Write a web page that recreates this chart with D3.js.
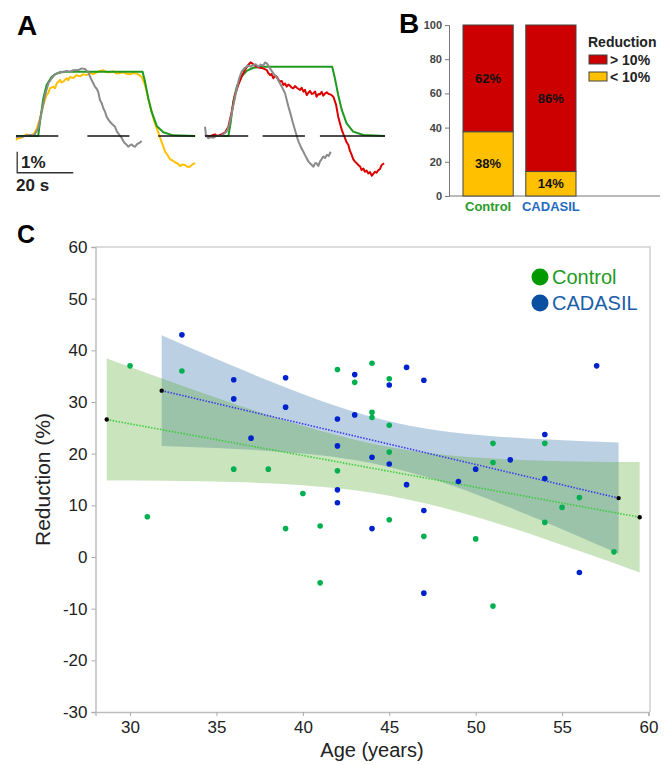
<!DOCTYPE html>
<html><head><meta charset="utf-8">
<script src="https://cdn.jsdelivr.net/npm/d3@7"></script>
<style>body{margin:0;background:#fff} svg{display:block;font-family:"Liberation Sans",Arial,sans-serif}</style>
</head><body><svg id="c" width="672" height="765"></svg>
<script>
// ---------------- Panel A data (time s, signal %) ----------------
const leftGreen = [[0,0],[7.4,0],[8,0.68],[9.1,1.79],[10.2,2.43],[11.9,2.82],[13.6,2.98],[15.8,3.06],[42.2,3.06],[43,2.59],[44.1,1.79],[45.2,1.16],[46.9,0.48],[49.1,0.18],[52.4,0.03],[59.7,0]];
const leftYellow = [[0,-0.19],[0.7,-0.1],[1.3,-0.11],[2.2,-0.02],[3.6,0.08],[4.4,0.0],[5.2,0.05],[6,0.12],[6.9,0.33],[8,0.84],[9.1,1.48],[10.2,1.95],[10.8,2.05],[11.3,2.27],[12.4,2.35],[13,2.28],[13.6,2.51],[14.7,2.67],[15.2,2.55],[15.8,2.59],[16.9,2.75],[17.4,2.66],[18,2.81],[19.1,2.76],[20.2,2.9],[21.3,2.84],[22.4,2.94],[23.5,2.9],[24.7,3.0],[25.8,2.95],[26.9,3.03],[28,3.1],[29.1,3.13],[30.2,3.04],[31.3,3.03],[32.4,3.08],[33.6,2.97],[34.7,3.0],[35.8,3.03],[36.9,2.96],[38,2.94],[39.1,3.0],[40.2,2.97],[41.1,2.9],[41.9,2.81],[43,2.43],[44.1,1.79],[45.2,1.16],[46.3,0.6],[47.4,0.17],[48.6,-0.3],[49.7,-0.75],[50.5,-0.9],[51.3,-1.1],[52.1,-1.16],[53,-1.25],[53.8,-1.3],[54.7,-1.43],[55.5,-1.36],[56.3,-1.38],[57.2,-1.47],[58,-1.46],[58.9,-1.34],[59.7,-1.3]];
const leftGray = [[0,-0.08],[1.2,-0.02],[2.4,-0.03],[3.5,0.02],[4.7,0.05],[5.5,0.02],[6.3,0.08],[7.4,0.37],[8.6,1.16],[9.7,1.95],[10.8,2.51],[11.9,2.75],[13,2.94],[13.8,2.98],[14.7,3.06],[15.8,3.04],[16.9,3.1],[18,3.06],[19.1,3.13],[20.8,3.14],[21.9,3.22],[23,3.19],[23.6,3.1],[24.1,3.06],[24.6,2.85],[25.2,2.67],[25.8,2.5],[26.3,2.35],[26.9,2.25],[27.4,2.11],[28,1.71],[28.6,1.55],[29.1,1.32],[29.7,1.15],[30.2,0.92],[30.8,0.78],[31.3,0.68],[32.2,0.55],[33,0.44],[33.6,0.22],[34.1,0.13],[34.7,0.0],[35.2,-0.08],[35.8,-0.25],[36.3,-0.35],[36.9,-0.42],[37.4,-0.51],[38,-0.44],[38.6,-0.4],[39.1,-0.48],[39.7,-0.51],[40.3,-0.4],[40.8,-0.35],[41.4,-0.3],[41.9,-0.24]];
const rightGreen = [[0,0],[7.8,0],[8.6,0.68],[9.4,1.63],[10.6,2.35],[12.2,2.83],[13.9,3.1],[16.1,3.25],[18.9,3.3],[42.4,3.3],[43.3,2.75],[44.4,1.95],[45.6,1.24],[47.2,0.6],[49.4,0.21],[52.8,0.05],[60,0]];
const rightRed = [[0,0.05],[0.8,0.0],[1.7,-0.03],[2.5,0.04],[3.3,0.08],[4.2,0.0],[5,0.05],[5.8,0.1],[6.7,0.17],[7.8,0.44],[8.9,1.16],[10,1.95],[11.1,2.43],[12.2,2.83],[13.3,3.14],[14.4,3.38],[15.2,3.51],[16.1,3.41],[17.2,3.3],[18.3,3.25],[19.4,3.22],[20.6,3.14],[21.1,3.0],[21.7,2.9],[22.2,2.95],[22.8,2.75],[23.3,2.85],[23.9,2.83],[24.4,2.7],[25,2.59],[25.6,2.62],[26.1,2.43],[26.7,2.5],[27.2,2.35],[27.8,2.45],[28.3,2.4],[28.9,2.3],[29.4,2.27],[30,2.38],[30.6,2.3],[31.1,2.25],[31.7,2.19],[32.2,2.3],[32.8,2.11],[33.3,2.2],[33.9,1.95],[34.4,2.05],[35,2.14],[35.6,2.0],[36.1,2.03],[36.7,2.12],[37.2,1.87],[37.8,2.0],[38.3,1.98],[38.9,2.1],[39.4,1.92],[40,2.02],[40.6,2.08],[41.2,2.0],[41.9,1.98],[42.8,1.87],[43.7,1.48],[44.4,0.92],[45,0.6],[45.6,0.29],[46.1,0.1],[46.7,-0.11],[47.2,-0.3],[47.8,-0.43],[48.3,-0.7],[48.9,-0.9],[49.4,-1.1],[50,-1.22],[50.6,-1.3],[51.1,-1.38],[51.7,-1.45],[52.2,-1.62],[52.8,-1.55],[53.3,-1.7],[53.9,-1.65],[54.4,-1.78],[55,-1.72],[55.6,-1.89],[56.1,-1.8],[56.7,-1.7],[57.2,-1.75],[57.8,-1.62],[58.3,-1.58],[58.9,-1.38],[59.7,-1.3]];
const rightGray = [[0,0.44],[0.3,0.05],[1.1,-0.11],[1.9,-0.05],[2.8,-0.08],[3.6,-0.02],[4.4,0.02],[5.3,0.0],[6.1,0.08],[7.2,0.21],[8.1,0.52],[8.9,1.08],[9.7,1.63],[10.6,2.27],[11.4,2.75],[12.2,3.06],[13.3,3.25],[14.4,3.35],[15.2,3.3],[16.1,3.38],[16.9,3.42],[17.8,3.3],[18.6,3.4],[19.4,3.35],[20,3.5],[20.6,3.46],[21.1,3.35],[21.7,3.22],[22.2,3.1],[22.8,2.98],[23.7,2.83],[24.4,2.67],[25,2.5],[25.6,2.35],[26.1,2.2],[26.7,2.03],[27.4,1.63],[27.8,1.4],[28.3,1.16],[28.8,0.9],[29.2,0.68],[30,0.29],[30.8,-0.11],[31.3,-0.3],[31.7,-0.43],[32.2,-0.6],[32.8,-0.75],[33.3,-0.9],[33.9,-1.06],[34.4,-1.2],[35,-1.3],[35.6,-1.38],[36.1,-1.46],[36.7,-1.3],[37.2,-1.3],[37.8,-1.42],[38.3,-1.22],[38.9,-1.1],[39.4,-0.98],[40,-1.05],[40.6,-0.9],[41.2,-0.95],[41.9,-0.75]];
const leftBaseSeg = [[0,14.1],[23.8,37.8],[47.4,59.7]];
const rightBaseSeg = [[0,14.4],[19.2,33.3],[38.3,60]];

// ---------------- Panel B data ----------------
const bCats = ["Control","CADASIL"];
const bLow = [37.5, 14.3];      // < 10%
const bHigh = [62.5, 85.7];     // > 10%
const bLowLabels = ["38%","14%"];
const bHighLabels = ["62%","86%"];
const bTicks = [0,20,40,60,80,100];

// ---------------- Panel C data ----------------
const ctrlAge = [30,31,33,36,38,39,40,41,41,42,42,43,44,44,44,45,45,45,45,47,50,51,51,51,54,54,55,56,58];
const ctrlRed = [37,7.8,36,17,17,5.5,12.3,6,-5,36.3,16.7,33.8,37.5,28,27,34.5,25.5,20.3,7.2,4,3.5,22,18.3,-9.5,22,6.7,9.6,11.5,1];
const cadAge = [33,36,36,37,39,39,42,42,42,42,43,43,44,44,45,45,46,46,47,47,47,49,50,52,54,54,56,57];
const cadRed = [43,34.3,30.6,23,34.7,29,26.7,21.5,13,10.5,35.3,27.5,19.3,5.5,33.3,18,36.7,14,34.2,9,-7,14.6,17,18.8,23.7,15.2,-3,37];
const ctrlFitAge = [28.65, 59.49], ctrlFitVal = [26.6, 7.7];
const cadFitAge = [31.83, 58.27], cadFitVal = [32.2, 11.4];
const ctrlBandAge = [28.65,32,36,40,44,48,52,56,59.49];
const ctrlBandHi = [38.4,34.35,29.68,25.39,21.94,19.84,18.89,18.5,18.38];
const ctrlBandLo = [14.8,14.75,14.5,13.89,12.44,9.64,5.69,1.16,-2.98];
const cadBandAge = [31.83,35,38,41,44,47,50,53,56,58.27];
const cadBandHi = [42.9,38.32,34.14,30.29,27.09,24.91,23.65,22.92,22.44,22.16];
const cadBandLo = [21.5,21.1,20.54,19.67,18.15,15.61,12.15,8.16,3.92,0.62];
const cXTicks = [30,35,40,45,50,55,60];
const cYTicks = [-30,-20,-10,0,10,20,30,40,50,60];

const svg = d3.select('#c');
svg.append('rect').attr('width',672).attr('height',765).attr('fill','#fff');

// ================= Panel A =================
svg.append('text').attr('x',17).attr('y',35).attr('font-size',28).attr('font-weight','bold').text('A');
const aY = d3.scaleLinear().domain([0,1]).range([136,115]);
const aXL = d3.scaleLinear().domain([0,60]).range([16,196]);
const aXR = d3.scaleLinear().domain([0,60]).range([205,385]);
function trace(data, xs, color){
  svg.append('path').datum(data)
    .attr('d', d3.line().x(d=>xs(d[0])).y(d=>aY(d[1])))
    .attr('fill','none').attr('stroke',color).attr('stroke-width',2).attr('stroke-linejoin','round');
}
trace(leftYellow, aXL, '#ffc000');
trace(leftGreen, aXL, '#1e9a1e');
trace(leftGray, aXL, '#8a8a8a');
trace(rightGreen, aXR, '#1e9a1e');
trace(rightRed, aXR, '#dd0000');
trace(rightGray, aXR, '#8a8a8a');
[[leftBaseSeg,aXL],[rightBaseSeg,aXR]].forEach(([segs,xs])=>{
  svg.append('g').selectAll('line').data(segs).join('line')
    .attr('x1',d=>xs(d[0])).attr('x2',d=>xs(d[1])).attr('y1',aY(0)).attr('y2',aY(0))
    .attr('stroke','#111').attr('stroke-width',1.6);
});
// scale bar
svg.append('path').attr('d',`M${aXL(0.4)},${aY(-0.75)}V${aY(-1.75)}H${aXL(19.1)}`).attr('fill','none').attr('stroke','#333').attr('stroke-width',1.3);
svg.append('text').attr('x',21).attr('y',168).attr('font-size',17).attr('font-weight','bold').attr('fill','#222').text('1%');
svg.append('text').attr('x',16).attr('y',191).attr('font-size',17).attr('font-weight','bold').attr('fill','#222').text('20 s');

// ================= Panel B =================
svg.append('text').attr('x',399).attr('y',33).attr('font-size',28).attr('font-weight','bold').text('B');
const bY = d3.scaleLinear().domain([0,100]).range([196,25]);
const bX = d3.scaleBand().domain(bCats).range([463,576]).paddingInner(0.2);
const bAxis = svg.append('g').attr('transform','translate(449,0)')
  .call(d3.axisLeft(bY).tickValues(bTicks).tickSize(4).tickPadding(3));
bAxis.select('.domain').attr('stroke','#777');
bAxis.selectAll('.tick line').attr('stroke','#777');
bAxis.selectAll('text').attr('font-size',11).attr('font-weight','bold').attr('fill','#444').attr('font-family','"Liberation Sans",Arial,sans-serif');
svg.append('line').attr('x1',449).attr('x2',660).attr('y1',bY(0)).attr('y2',bY(0)).attr('stroke','#777').attr('stroke-width',1);
const bg = svg.append('g');
bCats.forEach((c,i)=>{
  bg.append('rect').attr('x',bX(c)).attr('width',bX.bandwidth()).attr('y',bY(bLow[i]+bHigh[i])).attr('height',bY(bLow[i])-bY(bLow[i]+bHigh[i]))
    .attr('fill','#cc0000').attr('stroke','#444').attr('stroke-width',1);
  bg.append('rect').attr('x',bX(c)).attr('width',bX.bandwidth()).attr('y',bY(bLow[i])).attr('height',bY(0)-bY(bLow[i]))
    .attr('fill','#ffc000').attr('stroke','#444').attr('stroke-width',1);
  bg.append('text').attr('x',bX(c)+bX.bandwidth()/2).attr('y',bY(bLow[i]+bHigh[i]/2)).attr('dy','0.35em')
    .attr('text-anchor','middle').attr('font-size',13).attr('font-weight','bold').attr('fill','#111').text(bHighLabels[i]);
  bg.append('text').attr('x',bX(c)+bX.bandwidth()/2).attr('y',bY(bLow[i]/2)).attr('dy','0.35em')
    .attr('text-anchor','middle').attr('font-size',13).attr('font-weight','bold').attr('fill','#111').text(bLowLabels[i]);
});
const catColors = ['#2a9a2a','#1f6bbf'];
bCats.forEach((c,i)=>{
  svg.append('text').attr('x',bX(c)+bX.bandwidth()/2).attr('y',211).attr('text-anchor','middle')
    .attr('font-size',13).attr('font-weight','bold').attr('fill',catColors[i]).text(c);
});
svg.append('text').attr('x',588).attr('y',47).attr('font-size',14).attr('font-weight','bold').attr('fill','#222').text('Reduction');
[['#cc0000','> 10%',55],['#ffc000','< 10%',72]].forEach(([col,lab,y])=>{
  svg.append('rect').attr('x',589).attr('y',y).attr('width',18).attr('height',9).attr('fill',col).attr('stroke','#444');
  svg.append('text').attr('x',610).attr('y',y+10).attr('font-size',14).attr('font-weight','bold').attr('fill','#222').text(lab);
});

// ================= Panel C =================
svg.append('text').attr('x',17).attr('y',243).attr('font-size',25).attr('font-weight','bold').text('C');
const cx = d3.scaleLinear().domain([28,60]).range([95.5,648.5]);
const cy = d3.scaleLinear().domain([-30,60]).range([712,247]);
// frame
svg.append('path').attr('d',`M${cx(28)},${cy(60)}H${cx(60)+1.5}V${cy(-30)}`).attr('fill','none').attr('stroke','#cfcfcf').attr('stroke-width',1.5);
const xAx = svg.append('g').attr('transform',`translate(0,${cy(-30)})`).call(d3.axisBottom(cx).tickValues(cXTicks).tickFormat(d=>String(d)).tickSize(4).tickPadding(5));
const yAx = svg.append('g').attr('transform',`translate(${cx(28)},0)`).call(d3.axisLeft(cy).tickValues(cYTicks).tickFormat(d=>String(d)).tickSize(4).tickPadding(4));
[xAx,yAx].forEach(a=>{
  a.select('.domain').attr('stroke','#bdbdbd').attr('stroke-width',1.5);
  a.selectAll('.tick line').attr('stroke','#aaa');
  a.selectAll('text').attr('font-size',17).attr('fill','#222').attr('font-family','"Liberation Sans",Arial,sans-serif');
});
svg.append('text').attr('x',(cx(28)+cx(60))/2).attr('y',757).attr('text-anchor','middle').attr('font-size',20).attr('fill','#222').text('Age (years)');
svg.append('text').attr('transform',`translate(50,${(cy(60)+cy(-30))/2}) rotate(-90)`).attr('text-anchor','middle').attr('font-size',21).attr('fill','#222').text('Reduction (%)');

// bands
const cadBand = cadBandAge.map((a,i)=>[a,cadBandLo[i],cadBandHi[i]]);
const ctrlBand = ctrlBandAge.map((a,i)=>[a,ctrlBandLo[i],ctrlBandHi[i]]);
const area = d3.area().x(d=>cx(d[0])).y0(d=>cy(d[1])).y1(d=>cy(d[2])).curve(d3.curveMonotoneX);
svg.append('path').datum(cadBand).attr('d',area).attr('fill','rgb(32,98,162)').attr('fill-opacity',0.3);
svg.append('path').datum(ctrlBand).attr('d',area).attr('fill','rgb(80,165,40)').attr('fill-opacity',0.3);

// fit lines
const line = d3.line().x(d=>cx(d[0])).y(d=>cy(d[1]));
svg.append('path').datum(ctrlFitAge.map((a,i)=>[a,ctrlFitVal[i]])).attr('d',line).attr('fill','none').attr('stroke','#3ccc3c').attr('stroke-width',1.6).attr('stroke-dasharray','1.5,1.5');
svg.append('path').datum(cadFitAge.map((a,i)=>[a,cadFitVal[i]])).attr('d',line).attr('fill','none').attr('stroke','#3a3aee').attr('stroke-width',1.6).attr('stroke-dasharray','1.5,1.5');

// points
svg.append('g').selectAll('circle').data(ctrlAge.map((a,i)=>[a,ctrlRed[i]])).join('circle')
  .attr('cx',d=>cx(d[0])).attr('cy',d=>cy(d[1])).attr('r',2.8).attr('fill','#00b050');
svg.append('g').selectAll('circle').data(cadAge.map((a,i)=>[a,cadRed[i]])).join('circle')
  .attr('cx',d=>cx(d[0])).attr('cy',d=>cy(d[1])).attr('r',2.8).attr('fill','#0022cc');
// fit endpoints
const ends = [[ctrlFitAge[0],ctrlFitVal[0]],[ctrlFitAge[1],ctrlFitVal[1]],[cadFitAge[0],cadFitVal[0]],[cadFitAge[1],cadFitVal[1]]];
svg.append('g').selectAll('circle').data(ends).join('circle')
  .attr('cx',d=>cx(d[0])).attr('cy',d=>cy(d[1])).attr('r',2.2).attr('fill','#000');

// legend
const leg = [['Control','#009a00','#1e9a1e'],['CADASIL','#0a4fa0','#1a5ea8']];
leg.forEach(([lab,dot,txt],i)=>{
  svg.append('circle').attr('cx',540).attr('cy',277+i*26).attr('r',8.5).attr('fill',dot);
  svg.append('text').attr('x',552).attr('y',284+i*26).attr('font-size',20).attr('fill',txt).text(lab);
});
</script></body></html>
